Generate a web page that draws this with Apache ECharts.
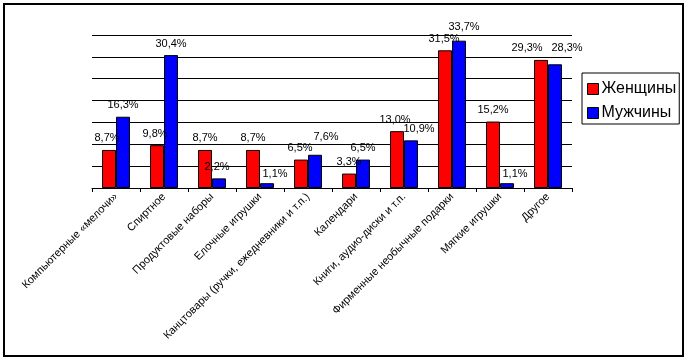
<!DOCTYPE html>
<html><head><meta charset="utf-8">
<script src="https://cdn.jsdelivr.net/npm/echarts@6/dist/echarts.min.js"></script>
<style>html,body{margin:0;padding:0;background:#fff}#c{width:690px;height:360px}</style>
</head><body><div id="c"></div>
<script>
const categories = ["Компьютерные «мелочи»","Спиртное","Продуктовые наборы","Елочные игрушки","Канцтовары (ручки, ежедневники и т.п.)","Календари","Книги, аудио-диски и т.п.","Фирменные необычные подарки","Мягкие игрушки","Другое"];
const women = [8.7, 9.8, 8.7, 8.7, 6.5, 3.3, 13.0, 31.5, 15.2, 29.3];
const men = [16.3, 30.4, 2.2, 1.1, 7.6, 6.5, 10.9, 33.7, 1.1, 28.3];
const seriesNames = ["Женщины","Мужчины"];
// label nudges (px) mimicking the original's label placement
const womenLabelShift = [[-2,0],[-2,0],[0,0],[0,0],[-1,0],[0,0],[-2,0],[-1,0],[0,0],[-14,0]];
const menLabelShift = [[0,0],[0,0],[-2,0],[8,2],[11,-6],[0,0],[8,0],[5,-2],[8,2],[12,-5]];
const font = "'Liberation Sans', Arial, sans-serif";
const fmt = p => p.value.toFixed(1).replace('.', ',') + '%';
const withShift = (vals, shifts) => vals.map((v, i) => ({value: v, label: {offset: shifts[i]}}));
const chart = echarts.init(document.getElementById('c'));
chart.setOption({
  animation:false,
  backgroundColor:'#fff',
  grid:{left:92,right:118,top:35,bottom:172,containLabel:false},
  graphic:[{type:'rect',shape:{x:4,y:4,width:679,height:352},style:{fill:'none',stroke:'#000',lineWidth:2},silent:true}],
  legend:{orient:'vertical',left:582,top:73,borderColor:'#000',borderWidth:1,padding:[8,3,3,5],
    itemWidth:11,itemHeight:11,itemGap:8,icon:'rect',
    itemStyle:{borderColor:'#000',borderWidth:1},
    textStyle:{fontFamily:font,fontSize:16,color:'#000',lineHeight:16,padding:[0,0,0,-2]},
    data:seriesNames},
  xAxis:{type:'category',data:categories,boundaryGap:true,
    axisLine:{lineStyle:{color:'#000',width:1}},
    axisTick:{show:true,alignWithLabel:false,length:4,lineStyle:{color:'#000'}},
    axisLabel:{rotate:45,interval:0,fontFamily:font,fontSize:11,color:'#000',margin:7}},
  yAxis:{type:'value',min:0,max:35,interval:5,
    axisLine:{show:false},axisTick:{show:false},axisLabel:{show:false},
    splitLine:{lineStyle:{color:'#000',width:1}}},
  series:[
    {name:seriesNames[0],type:'bar',data:withShift(women, womenLabelShift),barWidth:14,barGap:'0%',
     itemStyle:{color:'#ff0000',borderColor:'#000',borderWidth:1},
     label:{show:true,position:'top',distance:6,formatter:fmt,fontFamily:font,fontSize:11,color:'#000'}},
    {name:seriesNames[1],type:'bar',data:withShift(men, menLabelShift),barWidth:14,barGap:'0%',
     itemStyle:{color:'#0000ff',borderColor:'#000',borderWidth:1},
     label:{show:true,position:'top',distance:6,formatter:fmt,fontFamily:font,fontSize:11,color:'#000'}}
  ]
});
</script></body></html>
